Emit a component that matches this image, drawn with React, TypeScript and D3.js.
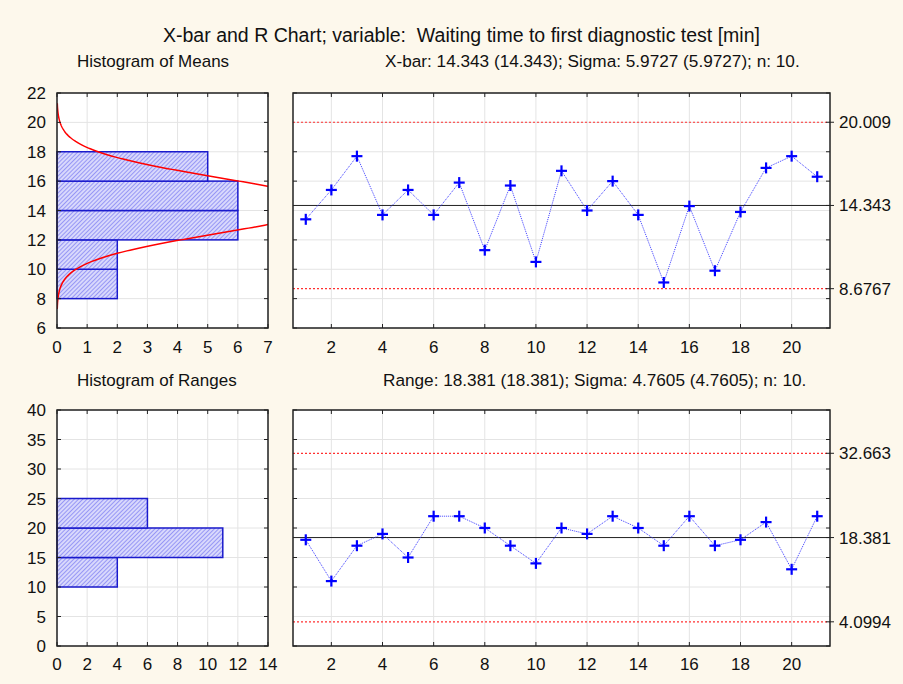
import React from "react";
import * as d3 from "d3";

const xbarValues = [13.4, 15.4, 17.7, 13.7, 15.4, 13.7, 15.9, 11.3, 15.7, 10.5, 16.7, 14.0, 16.0, 13.7, 9.1, 14.3, 9.9, 13.9, 16.9, 17.7, 16.3];
const rangeValues = [18, 11, 17, 19, 15, 22, 22, 20, 17, 14, 20, 19, 22, 20, 17, 22, 17, 18, 21, 13, 22];
const meanBins = [8, 10, 12, 14, 16, 18];
const rangeBins = [10, 15, 20, 25];
const xbarCL = 14.343, xbarUCL = 20.009, xbarLCL = 8.6767;
const rCL = 18.381, rUCL = 32.663, rLCL = 4.0994;
const sigmaMean = 5.9727;
const sigmaRange = 4.7605;
const nSample = 10;
const meanYTicks = [6, 8, 10, 12, 14, 16, 18, 20, 22];
const meanXTicks = [0, 1, 2, 3, 4, 5, 6, 7];
const rangeYTicks = [0, 5, 10, 15, 20, 25, 30, 35, 40];
const rangeXTicks = [0, 2, 4, 6, 8, 10, 12, 14];
const sampleTicks = [2, 4, 6, 8, 10, 12, 14, 16, 18, 20];

const titleText = "X-bar and R Chart; variable:  Waiting time to first diagnostic test [min]";
const FONT = "'Liberation Sans', Arial, sans-serif";

function binCounts(values: number[], edges: number[]) {
  const out: { lo: number; hi: number; n: number }[] = [];
  for (let i = 0; i < edges.length - 1; i++) {
    const lo = edges[i], hi = edges[i + 1];
    out.push({ lo, hi, n: values.filter((v) => v > lo && v <= hi).length });
  }
  return out;
}

const L = { hx0: 57, hx1: 268, cx0: 293, cx1: 830, t0: 93, b0: 328, t1: 410, b1: 646 };

function Grid({ x0, x1, y0, y1, xs, ys, xTicks, yTicks }: any) {
  return (
    <g>
      {xTicks.map((t: number) => (
        <line key={"x" + t} x1={xs(t)} x2={xs(t)} y1={y0} y2={y1} stroke="#e4e4e4" />
      ))}
      {yTicks.map((t: number) => (
        <line key={"y" + t} x1={x0} x2={x1} y1={ys(t)} y2={ys(t)} stroke="#e4e4e4" />
      ))}
    </g>
  );
}

function Ticks({ x0, x1, y0, y1, xs, ys, xTicks, yTicks, yLabels, xLabelY, extraRight }: any) {
  const tl = 4;
  return (
    <g>
      <rect x={x0} y={y0} width={x1 - x0} height={y1 - y0} fill="none" stroke="#222" strokeWidth={1.5} />
      {xTicks.map((t: number) => (
        <g key={"x" + t}>
          <line x1={xs(t)} x2={xs(t)} y1={y0} y2={y0 + tl} stroke="#222" />
          <line x1={xs(t)} x2={xs(t)} y1={y1} y2={y1 - tl} stroke="#222" />
          <text x={xs(t)} y={xLabelY} textAnchor="middle" fontFamily={FONT} fontSize={17} fill="#111">
            {t}
          </text>
        </g>
      ))}
      {yTicks.map((t: number) => (
        <g key={"y" + t}>
          <line x1={x0} x2={x0 + tl} y1={ys(t)} y2={ys(t)} stroke="#222" />
          <line x1={x1} x2={x1 - tl} y1={ys(t)} y2={ys(t)} stroke="#222" />
          {yLabels && (
            <text x={x0 - 11} y={ys(t) + 6} textAnchor="end" fontFamily={FONT} fontSize={17} fill="#111">
              {t}
            </text>
          )}
        </g>
      ))}
      {(extraRight || []).map((v: number) => (
        <g key={"r" + v}>
          <line x1={x1} x2={x1 - tl} y1={ys(v)} y2={ys(v)} stroke="#222" />
          <line x1={x1} x2={x1 + tl} y1={ys(v)} y2={ys(v)} stroke="#222" />
          <text x={x1 + 9} y={ys(v) + 6} fontFamily={FONT} fontSize={17} fill="#111">
            {String(v)}
          </text>
        </g>
      ))}
    </g>
  );
}

function Histogram({ x0, x1, y0, y1, xDomain, yDomain, xTicks, yTicks, bins, curve, id, xLabelY }: any) {
  const xs = d3.scaleLinear().domain(xDomain).range([x0, x1]);
  const ys = d3.scaleLinear().domain(yDomain).range([y1, y0]);
  return (
    <g>
      <rect x={x0} y={y0} width={x1 - x0} height={y1 - y0} fill="#fff" />
      <Grid x0={x0} x1={x1} y0={y0} y1={y1} xs={xs} ys={ys} xTicks={xTicks} yTicks={yTicks} />
      {bins.filter((b: any) => b.n > 0).map((b: any, i: number) => (
        <rect key={i} x={xs(0)} y={ys(b.hi)} width={xs(b.n) - xs(0)} height={ys(b.lo) - ys(b.hi)}
          fill="url(#hatch)" stroke="#1a1acc" strokeWidth={1.5} />
      ))}
      {curve && (
        <g clipPath={`url(#${id})`}>
          <path d={curve(xs, ys)} fill="none" stroke="#ff0000" strokeWidth={1.5} />
        </g>
      )}
      <clipPath id={id}>
        <rect x={x0} y={y0} width={x1 - x0} height={y1 - y0} />
      </clipPath>
      <Ticks x0={x0} x1={x1} y0={y0} y1={y1} xs={xs} ys={ys} xTicks={xTicks} yTicks={yTicks}
        yLabels xLabelY={xLabelY} />
    </g>
  );
}

function ControlChart({ x0, x1, y0, y1, yDomain, yTicks, values, cl, ucl, lcl, xLabelY }: any) {
  const xs = d3.scaleLinear().domain([0.5, values.length + 0.5]).range([x0, x1]);
  const ys = d3.scaleLinear().domain(yDomain).range([y1, y0]);
  const line = d3.line<number>().x((_, i) => xs(i + 1)).y((d) => ys(d));
  const m = 5.5;
  return (
    <g>
      <rect x={x0} y={y0} width={x1 - x0} height={y1 - y0} fill="#fff" />
      <Grid x0={x0} x1={x1} y0={y0} y1={y1} xs={xs} ys={ys} xTicks={sampleTicks} yTicks={yTicks} />
      <line x1={x0} x2={x1} y1={ys(ucl)} y2={ys(ucl)} stroke="#ff3030" strokeWidth={1.2} strokeDasharray="2,2" />
      <line x1={x0} x2={x1} y1={ys(lcl)} y2={ys(lcl)} stroke="#ff3030" strokeWidth={1.2} strokeDasharray="2,2" />
      <line x1={x0} x2={x1} y1={ys(cl)} y2={ys(cl)} stroke="#222" strokeWidth={1} />
      <path d={line(values) || ""} fill="none" stroke="#3b3bff" strokeWidth={1} strokeDasharray="1,1" />
      {values.map((v: number, i: number) => (
        <g key={i} stroke="#0000ff" strokeWidth={2.2}>
          <line x1={xs(i + 1) - m} x2={xs(i + 1) + m} y1={ys(v)} y2={ys(v)} />
          <line x1={xs(i + 1)} x2={xs(i + 1)} y1={ys(v) - m} y2={ys(v) + m} />
        </g>
      ))}
      <Ticks x0={x0} x1={x1} y0={y0} y1={y1} xs={xs} ys={ys} xTicks={sampleTicks}
        yTicks={yTicks.filter((t: number) => Math.abs(ys(t) - ys(ucl)) > 8 && Math.abs(ys(t) - ys(cl)) > 8 && Math.abs(ys(t) - ys(lcl)) > 8)}
        xLabelY={xLabelY} extraRight={[ucl, cl, lcl]} />
    </g>
  );
}

export default function App() {
  const meanHist = binCounts(xbarValues, meanBins);
  const rangeHist = binCounts(rangeValues, rangeBins);
  const s = sigmaMean / Math.sqrt(nSample);
  const scale = xbarValues.length * (meanBins[1] - meanBins[0]);
  const curvePts = d3.range(7.3, 21.35, 0.05);
  const normalCurve = (xs: any, ys: any) =>
    d3.line<number>()
      .x((y) => xs((scale / (s * Math.sqrt(2 * Math.PI))) * Math.exp(-((y - xbarCL) ** 2) / (2 * s * s))))
      .y((y) => ys(y))(curvePts) || "";

  return (
    <svg width={903} height={684} style={{ position: "absolute", left: 0, top: 0 }}>
      <defs>
        <pattern id="hatch" patternUnits="userSpaceOnUse" width={3} height={3} patternTransform="rotate(45)">
          <rect width={3} height={3} fill="#d8d8fc" />
          <line x1={0} y1={0} x2={0} y2={3} stroke="#7474f2" strokeWidth={1.3} />
        </pattern>
      </defs>
      <rect width={903} height={684} fill="#fdf8ec" />
      <text x={461.5} y={42} textAnchor="middle" fontFamily={FONT} fontSize={19.5} fill="#111"
        textLength={597} lengthAdjust="spacingAndGlyphs" style={{ whiteSpace: "pre" }}>{titleText}</text>
      <text x={77} y={67} fontFamily={FONT} fontSize={17} fill="#111">Histogram of Means</text>
      <text x={385} y={67} fontFamily={FONT} fontSize={17.2} fill="#111">
        {`X-bar: ${xbarCL} (${xbarCL}); Sigma: ${sigmaMean} (${sigmaMean}); n: ${nSample}.`}
      </text>
      <text x={77} y={386} fontFamily={FONT} fontSize={17} fill="#111">Histogram of Ranges</text>
      <text x={383} y={386} fontFamily={FONT} fontSize={17.2} fill="#111">
        {`Range: ${rCL} (${rCL}); Sigma: ${sigmaRange} (${sigmaRange}); n: ${nSample}.`}
      </text>

      <Histogram id="clipMeans" x0={L.hx0} x1={L.hx1} y0={L.t0} y1={L.b0} xDomain={[0, 7]} yDomain={[6, 22]}
        xTicks={meanXTicks} yTicks={meanYTicks} bins={meanHist} curve={normalCurve} xLabelY={L.b0 + 25} />
      <ControlChart x0={L.cx0} x1={L.cx1} y0={L.t0} y1={L.b0} yDomain={[6, 22]} yTicks={meanYTicks}
        values={xbarValues} cl={xbarCL} ucl={xbarUCL} lcl={xbarLCL} xLabelY={L.b0 + 25} />
      <Histogram id="clipRanges" x0={L.hx0} x1={L.hx1} y0={L.t1} y1={L.b1} xDomain={[0, 14]} yDomain={[0, 40]}
        xTicks={rangeXTicks} yTicks={rangeYTicks} bins={rangeHist} xLabelY={L.b1 + 24} />
      <ControlChart x0={L.cx0} x1={L.cx1} y0={L.t1} y1={L.b1} yDomain={[0, 40]} yTicks={rangeYTicks}
        values={rangeValues} cl={rCL} ucl={rUCL} lcl={rLCL} xLabelY={L.b1 + 24} />
    </svg>
  );
}
